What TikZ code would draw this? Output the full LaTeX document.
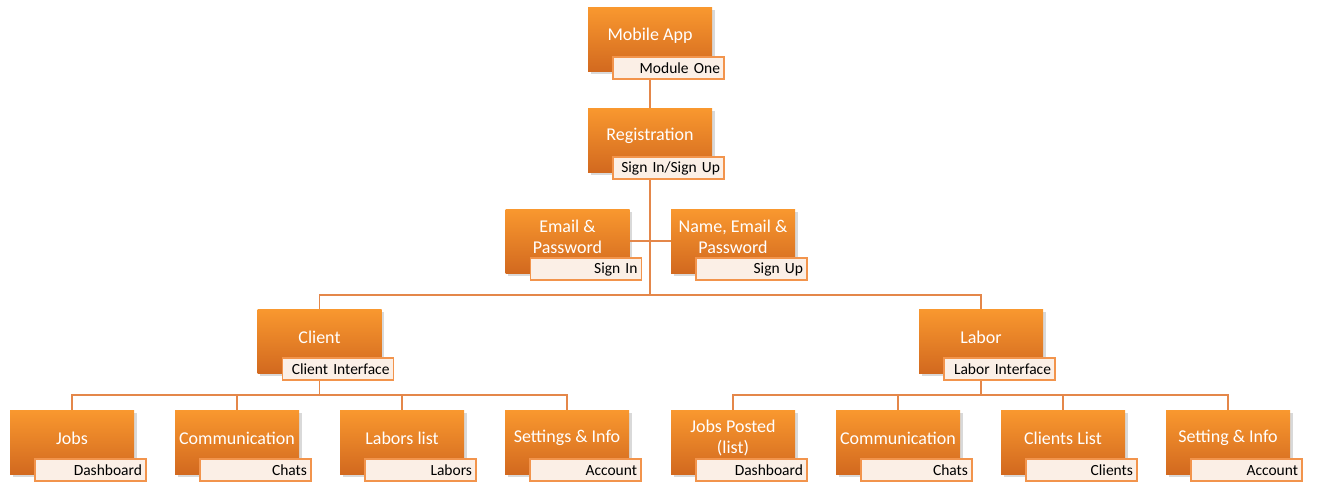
\documentclass[tikz,border=0pt]{standalone}
\usepackage{fontspec}
\setmainfont{Carlito}
\usetikzlibrary{shadows}
\definecolor{boxtop}{HTML}{F9982F}
\definecolor{boxbot}{HTML}{D2691F}
\definecolor{wire}{HTML}{E4874A}
\definecolor{tagedge}{HTML}{F2944C}
\definecolor{tagfill}{HTML}{FBEFE6}
\tikzset{
  unitbox/.style={minimum width=124pt, minimum height=64pt, inner sep=0pt,
    top color=boxtop, bottom color=boxbot,
    drop shadow={shadow xshift=2.5pt, shadow yshift=-2.5pt, opacity=0.3}},
  unittext/.style={text=white, font=\fontsize{18}{21}\selectfont, align=center, inner sep=0pt},
  tagbox/.style={draw=tagedge, line width=1.6pt, fill=tagfill, minimum height=22pt,
    text width=103pt, inner xsep=4pt, inner ysep=0pt, align=right,
    font=\fontsize{15.5}{17}\selectfont, text=black},
  wireline/.style={draw=wire, line width=1.8pt},
}
% #1 name, #2 x, #3 y, #4 title, #5 tag
\newcommand\orgunit[5]{%
  \node[unitbox] (#1) at (#2,#3) {};
  \node[unittext] (#1T) at ([yshift=4pt]#1.center) {#4};
  \node[tagbox] (#1L) at ([xshift=18.5pt,yshift=4pt]#1.south) {#5};
}
\begin{document}
\begin{tikzpicture}[x=1pt,y=-1pt]
\useasboundingbox (0,0) rectangle (1318,483);

\orgunit{app}{650}{39.5}{Mobile App}{Module One}
\orgunit{reg}{650}{140}{Registration}{Sign In/Sign Up}
\orgunit{email}{567.5}{241}{Email \&\\Password}{Sign In}
\orgunit{name}{733}{241}{Name, Email \&\\Password}{Sign Up}
\orgunit{client}{319.5}{341}{Client}{Client Interface}
\orgunit{labor}{981}{341}{Labor}{Labor Interface}

\orgunit{cjobs}{72}{442}{Jobs}{Dashboard}
\orgunit{ccomm}{237}{442}{Communication}{Chats}
\orgunit{clabs}{402}{442}{Labors list}{Labors}
\orgunit{cset}{567}{442}{Settings \& Info}{Account}

\orgunit{ljobs}{733}{442}{Jobs Posted\\(list)}{Dashboard}
\orgunit{lcomm}{898}{442}{Communication}{Chats}
\orgunit{lcli}{1063}{442}{Clients List}{Clients}
\orgunit{lset}{1228}{442}{Setting \& Info}{Account}

% connectors
\coordinate (topbus) at (650,295);
\coordinate (cbus) at (319.5,395);
\coordinate (lbus) at (981,395);

\draw[wireline] (app |- appL.south) -- (reg.north);
\draw[wireline] (reg |- regL.south) -- (topbus);
\draw[wireline] (email.east) -- (name.west);
\draw[wireline] (client.north) |- (topbus) -| (labor.north);

\draw[wireline] (client |- clientL.south) -- (cbus);
\draw[wireline] (cjobs.north) |- (cbus) -| (cset.north);
\draw[wireline] (ccomm.north) -- (ccomm |- cbus);
\draw[wireline] (clabs.north) -- (clabs |- cbus);

\draw[wireline] (labor |- laborL.south) -- (lbus);
\draw[wireline] (ljobs.north) |- (lbus) -| (lset.north);
\draw[wireline] (lcomm.north) -- (lcomm |- lbus);
\draw[wireline] (lcli.north) -- (lcli |- lbus);
\end{tikzpicture}
\end{document}
